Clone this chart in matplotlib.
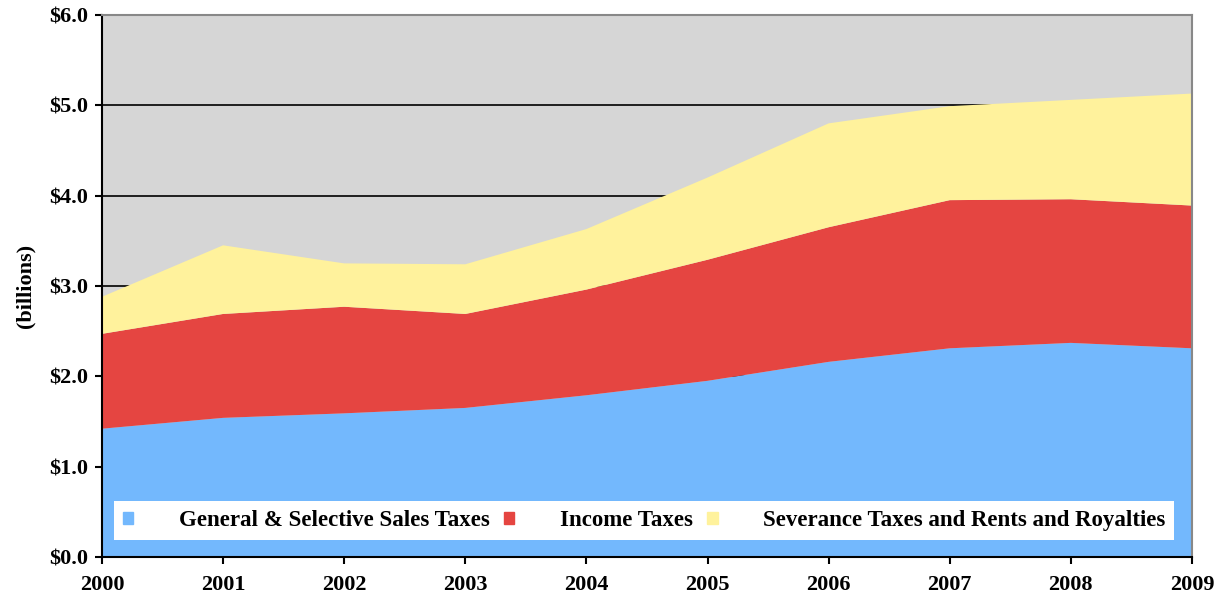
import matplotlib
matplotlib.use("Agg")
import matplotlib.pyplot as plt
from matplotlib.patches import Rectangle

# Revenue by source, billions of dollars
years = [2000, 2001, 2002, 2003, 2004, 2005, 2006, 2007, 2008, 2009]
sales = [1.42, 1.54, 1.59, 1.65, 1.79, 1.95, 2.16, 2.31, 2.37, 2.31]
income = [1.05, 1.15, 1.18, 1.04, 1.17, 1.34, 1.49, 1.64, 1.59, 1.58]
severance = [0.41, 0.76, 0.48, 0.55, 0.67, 0.91, 1.15, 1.04, 1.10, 1.24]
labels = ['General & Selective Sales Taxes', 'Income Taxes',
          'Severance Taxes and Rents and Royalties']
colors = ['#73b8fd', '#e54541', '#fff29c']

plt.rcParams['font.family'] = 'Liberation Serif'
plt.rcParams['font.weight'] = 'bold'

fig = plt.figure(figsize=(12.21, 5.98), dpi=100)
ax = fig.add_axes([0.0835, 0.0686, 0.8927, 0.9064])
ax.set_facecolor('#d6d6d6')

ax.stackplot(years, sales, income, severance, colors=colors, zorder=2)

ax.set_xlim(2000, 2009)
ax.set_ylim(0, 6)
ax.set_xticks(years)
ax.set_yticks(range(7))
ax.set_yticklabels(['$%.1f' % v for v in range(7)])
ax.yaxis.grid(True, color='black', linewidth=1.2, zorder=1)
ax.set_axisbelow(True)
ax.tick_params(axis='both', labelsize=16, direction='out', length=5, width=1.5)
ax.tick_params(axis='x', pad=8)
ax.tick_params(axis='y', pad=5)
for lab in ax.get_xticklabels() + ax.get_yticklabels():
    lab.set_fontweight('bold')
ax.set_ylabel('(billions)', fontsize=16, fontweight='bold', labelpad=10)

ax.spines['left'].set_linewidth(1.5)
ax.spines['bottom'].set_linewidth(1.5)
ax.spines['top'].set_color('#888888')
ax.spines['right'].set_color('#888888')
ax.spines['top'].set_linewidth(1.5)
ax.spines['right'].set_linewidth(1.5)

handles = [Rectangle((0, 0), 1, 1, color=c) for c in colors]
leg = ax.legend(handles, labels, ncol=3, loc='lower left',
                bbox_to_anchor=(0.011, 0.031),
                frameon=True, fancybox=False, framealpha=1, edgecolor='white',
                handlelength=0.44, handleheight=0.44, handletextpad=1.98,
                columnspacing=0.65, borderpad=0.4,
                borderaxespad=0, prop={'size': 16.5, 'weight': 'bold'})
leg.get_frame().set_linewidth(0)
leg.set_zorder(5)

plt.savefig('out.png', dpi=100)
